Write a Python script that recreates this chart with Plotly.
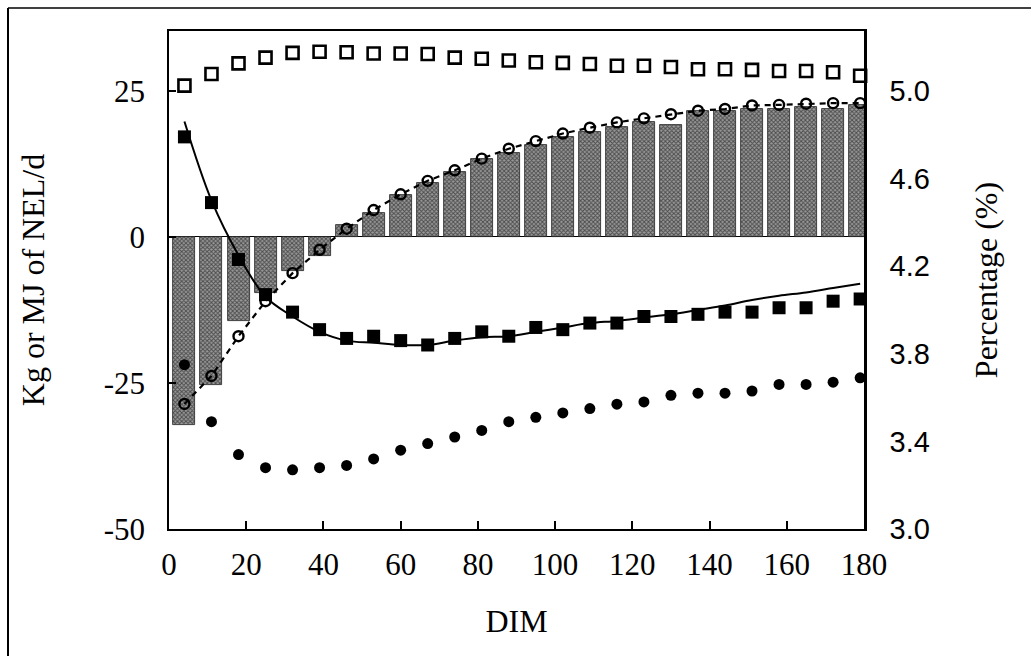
import plotly.graph_objects as go

# Days in milk (weekly means)
dim = [4, 11, 18, 25, 32, 39, 46, 53, 60, 67, 74, 81, 88,
       95, 102, 109, 116, 123, 130, 137, 144, 151, 158, 165, 172, 179]

# Left axis: Kg or MJ of NEL/d
milk_kg = [25.9, 27.9, 29.7, 30.7, 31.5, 31.7, 31.6, 31.4, 31.4, 31.3, 30.7, 30.5, 30.2,
           29.9, 29.8, 29.6, 29.3, 29.3, 29.1, 28.7, 28.7, 28.6, 28.4, 28.4, 28.2, 27.6]
energy_bal_bars = [-32.2, -25.4, -14.4, -9.6, -5.9, -3.3, 2.0, 4.1, 7.2, 9.2, 11.1, 13.4, 14.4,
                   15.7, 17.1, 17.9, 18.8, 19.6, 19.1, 21.6, 21.6, 21.9, 21.9, 22.3, 21.9, 22.5]
energy_bal_pts = [-28.6, -23.8, -17.0, -11.0, -6.2, -2.2, 1.4, 4.6, 7.3, 9.6, 11.4, 13.4, 15.1,
                  16.4, 17.7, 18.7, 19.6, 20.3, 21.0, 21.6, 21.9, 22.5, 22.6, 22.8, 22.9, 22.9]

# Right axis: Percentage (%)
fat_pct = [4.79, 4.49, 4.23, 4.07, 3.99, 3.91, 3.87, 3.88, 3.86, 3.84, 3.87, 3.90, 3.88,
           3.92, 3.91, 3.94, 3.94, 3.97, 3.97, 3.98, 3.99, 3.99, 4.01, 4.01, 4.04, 4.05]
fat_fit = [4.86, 4.50, 4.25, 4.06, 3.97, 3.90, 3.86, 3.85, 3.84, 3.84, 3.86, 3.875, 3.88,
           3.90, 3.92, 3.94, 3.95, 3.965, 3.98, 4.00, 4.02, 4.045, 4.065, 4.08, 4.10, 4.12]
protein_pct = [3.75, 3.49, 3.34, 3.28, 3.27, 3.28, 3.29, 3.32, 3.36, 3.39, 3.42, 3.45, 3.49,
               3.51, 3.53, 3.55, 3.57, 3.58, 3.61, 3.62, 3.62, 3.63, 3.66, 3.66, 3.67, 3.69]

left_ticks = [-50, -25, 0, 25]
left_tick_text = ["-50", "-25", "0", "25"]
right_ticks = [3.0, 3.4, 3.8, 4.2, 4.6, 5.0]
x_ticks = [0, 20, 40, 60, 80, 100, 120, 140, 160, 180]

SERIF = "Liberation Serif, Times New Roman, serif"
SANS = "Liberation Sans, Arial, sans-serif"

left_range = [-50, 35.25]
# right axis is tied linearly to the left: -50 -> 3.0, 25 -> 5.0
right_range = [3.0 + (v + 50) / 37.5 for v in left_range]

fig = go.Figure()

fig.add_trace(go.Bar(
    x=dim, y=energy_bal_bars, width=5.7, yaxis="y",
    marker=dict(color="#6a6a6a",
                line=dict(color="#222222", width=0.8),
                pattern=dict(shape="x", size=3, solidity=0.55,
                             fgcolor="#000000", bgcolor="#9a9a9a")),
    showlegend=False))

fig.add_trace(go.Scatter(
    x=dim, y=energy_bal_pts, yaxis="y", mode="lines+markers", cliponaxis=False,
    line=dict(color="black", width=2.2, dash="6px,5px"),
    marker=dict(symbol="circle-open", size=10, color="black", line=dict(width=2.4)),
    showlegend=False))

fig.add_trace(go.Scatter(
    x=dim, y=milk_kg, yaxis="y", mode="markers", cliponaxis=False,
    marker=dict(symbol="square-open", size=12, color="black", line=dict(width=2.6)),
    showlegend=False))

fig.add_trace(go.Scatter(
    x=dim, y=fat_fit, yaxis="y2", mode="lines", line_shape="spline", cliponaxis=False,
    line=dict(color="black", width=2),
    showlegend=False))

fig.add_trace(go.Scatter(
    x=dim, y=fat_pct, yaxis="y2", mode="markers", cliponaxis=False,
    marker=dict(symbol="square", size=13, color="black"),
    showlegend=False))

fig.add_trace(go.Scatter(
    x=dim, y=protein_pct, yaxis="y2", mode="markers", cliponaxis=False,
    marker=dict(symbol="circle", size=11, color="black"),
    showlegend=False))

W, H = 1031, 656
ML, MR, MT, MB = 169, 167, 31, 127
pw, ph = W - ML - MR, H - MT - MB


def px_x(p):
    return (p - ML) / pw


def px_y(p):
    return (H - MB - p) / ph


fig.update_layout(
    width=W, height=H, autosize=False,
    margin=dict(l=ML, r=MR, t=MT, b=MB, pad=0),
    paper_bgcolor="white", plot_bgcolor="white",
    bargap=0,
    xaxis=dict(
        range=[0, 180], tickvals=x_ticks, ticks="inside", ticklen=8, tickwidth=1.5,
        tickcolor="black", showline=True, linecolor="black", linewidth=2, mirror=True,
        showgrid=False, zeroline=False,
        tickfont=dict(family=SERIF, size=31, color="black"), ticklabelstandoff=7,
        title=dict(text="DIM", font=dict(family=SERIF, size=32, color="black"), standoff=28),
    ),
    yaxis=dict(
        range=left_range, tickvals=left_ticks, ticktext=left_tick_text,
        ticks="inside", ticklen=7, tickwidth=1.5,
        tickcolor="black", showline=True, linecolor="black", linewidth=1.5,
        showgrid=False, zeroline=True, zerolinecolor="black", zerolinewidth=1.2,
        tickfont=dict(family=SERIF, size=31, color="black"), ticklabelstandoff=16,
        title=dict(text="Kg or MJ of NEL/d", font=dict(family=SERIF, size=32, color="black"),
                   standoff=50),
    ),
    yaxis2=dict(
        range=right_range, tickvals=right_ticks, tickformat=".1f", ticks="",
        overlaying="y", side="right", showline=True, linecolor="black", linewidth=2.5,
        showgrid=False, zeroline=False,
        tickfont=dict(family=SANS, size=29, color="black"),
        ticklabelstandoff=17,
        title=dict(text="Percentage (%)", font=dict(family=SERIF, size=32, color="black"),
                   standoff=46),
    ),
    shapes=[
        # outer frame around the figure (left and top edges)
        dict(type="line", xref="paper", yref="paper",
             x0=px_x(8), x1=px_x(8), y0=px_y(8), y1=px_y(670),
             line=dict(color="black", width=2)),
        dict(type="line", xref="paper", yref="paper",
             x0=px_x(8), x1=px_x(1040), y0=px_y(8), y1=px_y(8),
             line=dict(color="black", width=1.5)),
    ],
)

fig.write_html("out.html")
